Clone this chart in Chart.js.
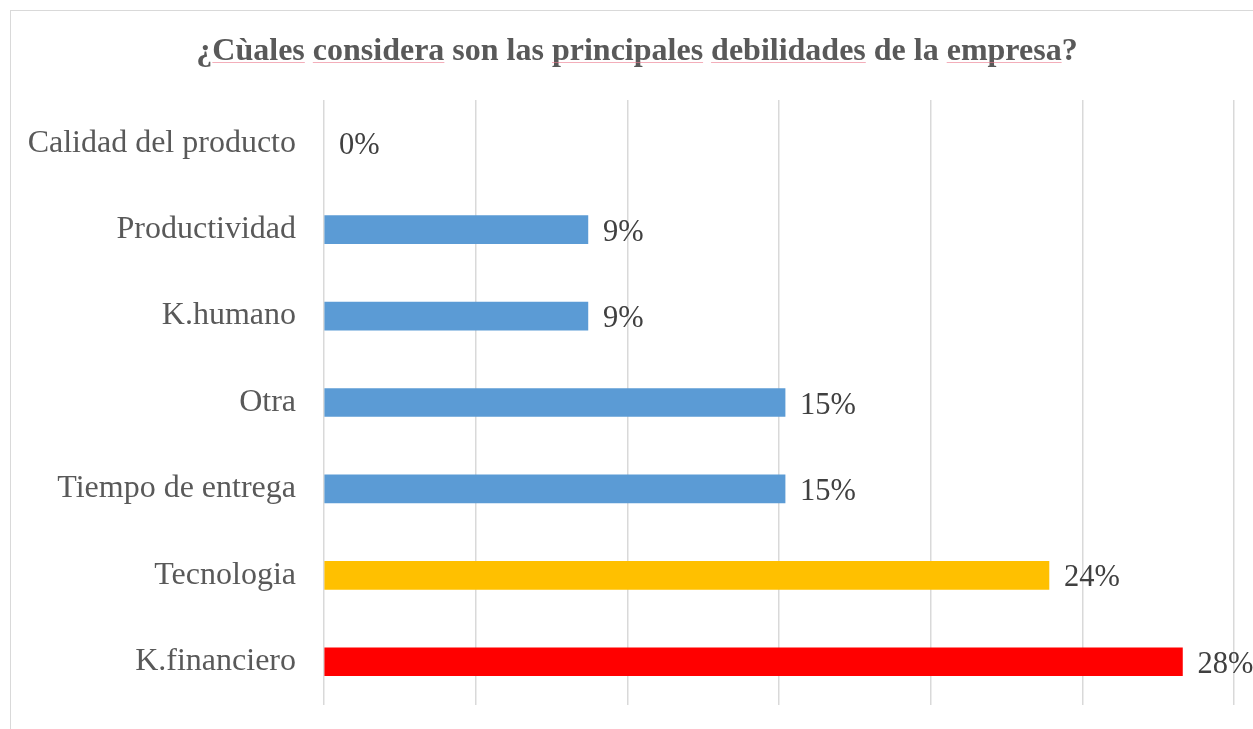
<!DOCTYPE html>
<html>
<head>
<meta charset="utf-8">
<script src="https://cdn.jsdelivr.net/npm/chart.js@4.4.1/dist/chart.umd.min.js"></script>
<style>
  html, body { margin: 0; padding: 0; background: #fff; overflow: hidden; }
  #frame {
    position: absolute; left: 10px; top: 10px;
    width: 1300px; height: 800px;
    border: 1.5px solid #d9d9d9;
  }
  #wrap { position: absolute; left: 0; top: 0; width: 1253px; height: 729px; }
</style>
</head>
<body>
<div id="frame"></div>
<div id="wrap"><canvas id="chart"></canvas></div>
<script>
// ---------- Data ----------
const categories = [
  "Calidad del producto",
  "Productividad",
  "K.humano",
  "Otra",
  "Tiempo de entrega",
  "Tecnologia",
  "K.financiero"
];
// share of answers, in %
const shares = [0, 8.7, 8.7, 15.2, 15.2, 23.9, 28.3];
const barColors = ["#5b9bd5", "#5b9bd5", "#5b9bd5", "#5b9bd5", "#5b9bd5", "#ffc000", "#ff0000"];
const titleText = "¿Cùales considera son las principales debilidades de la empresa?";
// words with the red spell-check underline
const flaggedWords = ["¿Cùales", "considera", "principales", "debilidades", "empresa"];

const serif = "'Liberation Serif', 'Times New Roman', serif";

// ---------- Plugins ----------
// value labels at the end of each bar
const valueLabels = {
  id: "valueLabels",
  afterDatasetsDraw(chart) {
    const ctx = chart.ctx;
    const meta = chart.getDatasetMeta(0);
    ctx.save();
    ctx.font = "30.5px " + serif;
    ctx.fillStyle = "#404040";
    ctx.textAlign = "left";
    ctx.textBaseline = "middle";
    meta.data.forEach((bar, i) => {
      const v = chart.data.datasets[0].data[i];
      ctx.fillText(Math.round(v) + "%", bar.x + 15, bar.y + 3);
    });
    ctx.restore();
  }
};

// title, centred on the frame, plus the faint squiggle under some words
const titleDraw = {
  id: "titleDraw",
  afterDraw(chart) {
    const ctx = chart.ctx;
    ctx.save();
    ctx.font = "bold 32px " + serif;
    ctx.fillStyle = "#595959";
    ctx.textBaseline = "alphabetic";
    ctx.textAlign = "left";
    const full = ctx.measureText(titleText).width;
    const x0 = 637 - full / 2;
    ctx.fillText(titleText, x0, 60);

    const y = 62.5;
    ctx.strokeStyle = "rgba(235,120,140,0.6)";
    ctx.lineWidth = 1;
    let pos = 0;
    titleText.split(" ").forEach((w) => {
      const start = x0 + ctx.measureText(titleText.slice(0, pos)).width;
      const word = w.replace("?", "");
      const wWidth = ctx.measureText(word).width;
      if (flaggedWords.includes(word)) {
        const s = word.startsWith("¿") ? start + ctx.measureText("¿").width : start;
        ctx.beginPath();
        ctx.moveTo(s, y);
        ctx.lineTo(start + wWidth, y);
        ctx.stroke();
      }
      pos += w.length + 1;
    });
    ctx.restore();
  }
};

// ---------- Chart ----------
new Chart(document.getElementById("chart"), {
  type: "bar",
  data: {
    labels: categories,
    datasets: [{
      data: shares,
      backgroundColor: (c) => (shares[c.dataIndex] === 0 ? "rgba(0,0,0,0)" : barColors[c.dataIndex]),
      borderWidth: 0,
      barThickness: 28
    }]
  },
  options: {
    indexAxis: "y",
    responsive: true,
    maintainAspectRatio: false,
    animation: false,
    layout: { padding: { left: 0, right: 19, top: 100, bottom: 0 } },
    plugins: {
      legend: { display: false },
      tooltip: { enabled: false },
      title: { display: false }
    },
    scales: {
      x: {
        min: 0,
        max: 30,
        ticks: { display: false, stepSize: 5 },
        grid: { color: "#d9d9d9", lineWidth: 1.5, drawTicks: false },
        border: { display: false },
        afterFit(scale) { scale.height = 24; }
      },
      y: {
        ticks: {
          color: "#595959",
          font: { family: serif, size: 32 },
          padding: 28
        },
        grid: { display: false, drawTicks: false },
        border: { display: false },
        afterFit(scale) {
          scale.width = 324;
          // tick padding would otherwise be added above and below the plot
          scale.paddingTop = 0;
          scale.paddingBottom = 0;
        }
      }
    }
  },
  plugins: [valueLabels, titleDraw]
});
</script>
</body>
</html>
